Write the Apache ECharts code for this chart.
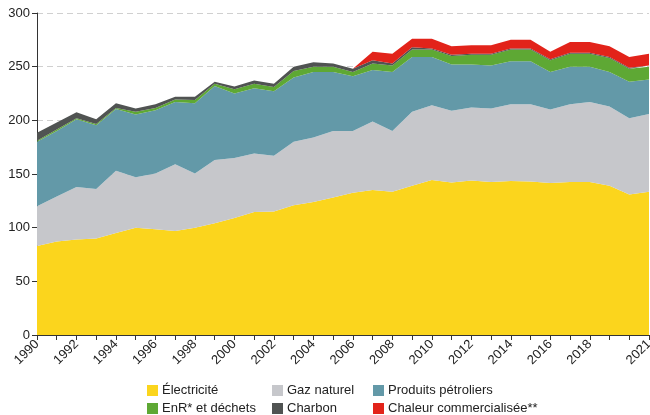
<!DOCTYPE html>
<html>
<head>
<meta charset="utf-8">
<script src="https://cdn.jsdelivr.net/npm/echarts@6/dist/echarts.min.js"></script>
<style>html,body{margin:0;padding:0;background:#fff}#c{width:650px;height:415px}</style>
</head>
<body>
<div id="c"></div>
<script>
const years = [];
for (let y = 1990; y <= 2021; y++) years.push(String(y));

const electricite = [83,87,89,90,95,100,98.5,97,100,104,109,114.5,115,121,124,128,132.5,135,133.5,139,144.5,142,144,142.5,143.5,143,141.5,142.5,142.5,139,131,133.5];
const gazNaturel = [37,42,49,46,58,47,52,62,50.5,59,56,54.5,52,59,60,62,57.5,64,56.5,69,69.5,67,68,68.5,71.5,72,68.5,72.5,74.5,74,71,72.5];
const produitsPetroliers = [60,61,63,59.5,57.5,58.5,59,58,65.5,69,60,61,60,60,61,55,51,48,55,51,45,43,40,40,40,40,35,35,33,32,34,32];
const enrDechets = [1,1.5,1,1,1,2.5,2,2.5,3,2,4,4,4,6,5,5,4,6,6,7,7,8,9,10,11,11,11,12,12,13,12,12];
const charbon = [7.5,6.5,5.5,4.5,4.5,3,3.5,2.5,3,2,2.5,3,3,4,4,3,3,3,2,2,1,1,1,1,1,1,1,1,1,1,1,1];
const chaleur = [0,0,0,0,0,0,0,0,0,0,0,0,0,0,0,0,0,8,9,8,9,8,8,8,8,8,7,10,10,10,10,11];

const yTicks = { min: 0, max: 300, interval: 50 };

const seriesDef = [
  { name: 'Électricité', data: electricite, color: '#fbd51d' },
  { name: 'Gaz naturel', data: gazNaturel, color: '#c6c7cb' },
  { name: 'Produits pétroliers', data: produitsPetroliers, color: '#6399a8' },
  { name: 'EnR* et déchets', data: enrDechets, color: '#5ea834' },
  { name: 'Charbon', data: charbon, color: '#505352' },
  { name: 'Chaleur commercialisée**', data: chaleur, color: '#e2231a' }
];

const legendPos = [
  [147, 384], [272, 384], [373, 384],
  [147, 402], [272, 402], [373, 402]
];

const font = '"Liberation Sans", Arial, Helvetica, sans-serif';

const chart = echarts.init(document.getElementById('c'), null, { renderer: 'canvas' });
chart.setOption({
  animation: false,
  textStyle: { fontFamily: font },
  grid: { left: 37, right: 1, top: 13, bottom: 80, containLabel: false, outerBoundsMode: 'none' },
  legend: seriesDef.map((s, i) => ({
    data: [s.name],
    left: legendPos[i][0],
    top: legendPos[i][1],
    itemWidth: 11,
    itemHeight: 11,
    itemGap: 0,
    padding: 0,
    icon: 'rect',
    textStyle: { fontFamily: font, fontSize: 13, color: '#222', padding: [0, 0, 0, -1] }
  })),
  xAxis: {
    type: 'category',
    data: years,
    boundaryGap: false,
    axisLine: { lineStyle: { color: '#333', width: 1 } },
    axisTick: { show: true, interval: 0, length: 5, lineStyle: { color: '#333' } },
    axisLabel: {
      rotate: 45,
      fontSize: 13,
      color: '#222',
      fontFamily: font,
      margin: 7,
      hideOverlap: false,
      interval: function (idx, val) {
        const v = parseInt(val, 10);
        return (v % 2 === 0 && v !== 2020) || v === 2021;
      }
    },
    splitLine: { show: false }
  },
  yAxis: {
    type: 'value',
    min: yTicks.min,
    max: yTicks.max,
    interval: yTicks.interval,
    axisLine: { show: true, lineStyle: { color: '#333', width: 1 } },
    axisTick: { show: true, length: 5, lineStyle: { color: '#333' } },
    axisLabel: { fontSize: 13, color: '#222', fontFamily: font, margin: 7 },
    splitLine: { show: true, lineStyle: { color: '#d0d0d0', type: [6, 4], width: 1 } }
  },
  series: seriesDef.map(s => ({
    name: s.name,
    type: 'line',
    stack: 'total',
    data: s.data,
    symbol: 'none',
    smooth: false,
    lineStyle: { width: 0, color: s.color },
    itemStyle: { color: s.color },
    areaStyle: { color: s.color, opacity: 1 },
    emphasis: { disabled: true }
  }))
});
</script>
</body>
</html>
